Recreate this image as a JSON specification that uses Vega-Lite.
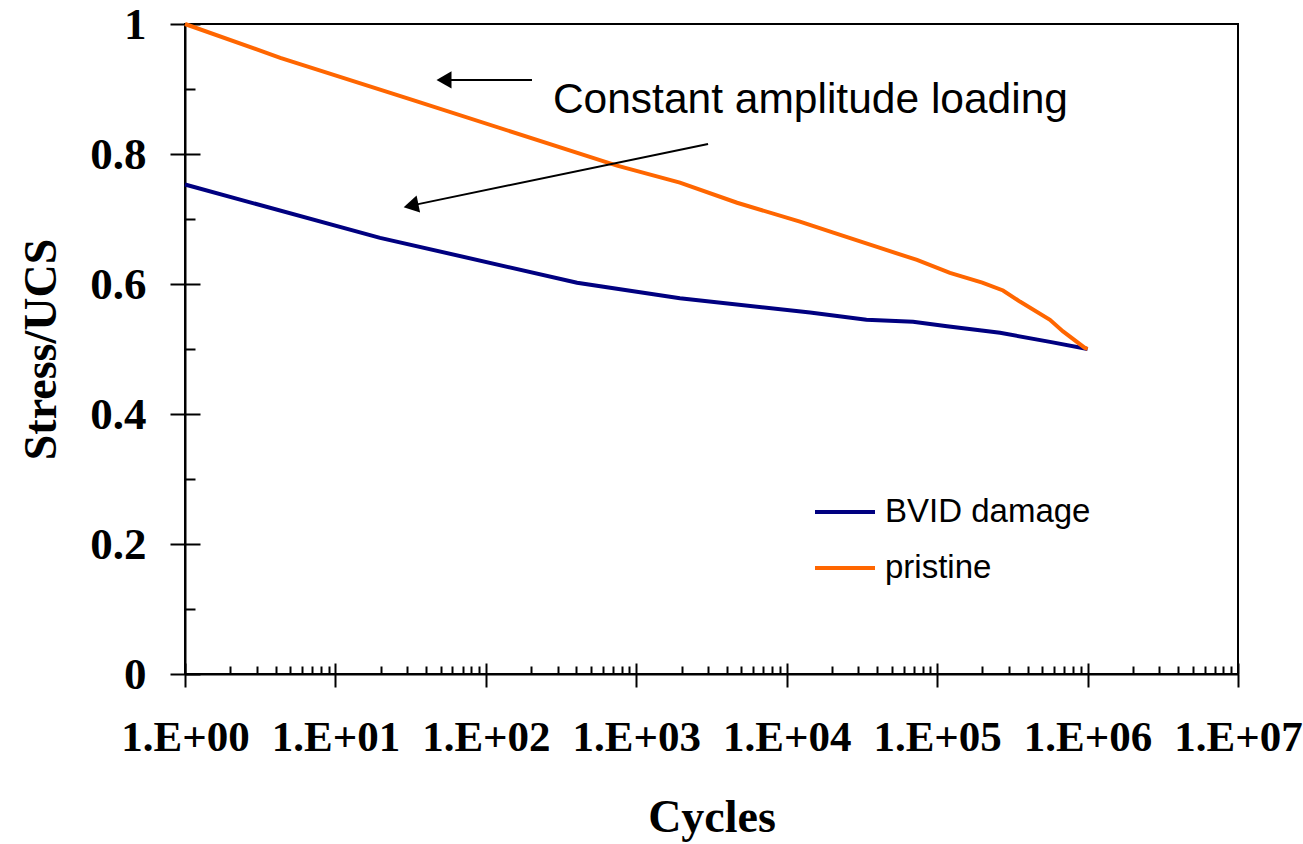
{
  "$schema": "https://vega.github.io/schema/vega-lite/v6.json",
  "width": 1053,
  "height": 650,
  "autosize": "none",
  "padding": {"left": 185, "top": 24, "right": 65, "bottom": 170},
  "background": "white",
  "config": {
    "view": {"stroke": "#000", "strokeWidth": 2},
    "axis": {
      "domainColor": "#000", "tickColor": "#000", "domainWidth": 2, "tickWidth": 2, "grid": false,
      "labelFont": "Liberation Serif", "labelFontWeight": "bold", "labelColor": "#000",
      "titleFont": "Liberation Serif", "titleFontWeight": "bold", "titleColor": "#000"
    }
  },
  "datasets": {
    "curves": [
      {"cycles": 1, "stress": 0.753, "series": "BVID damage"},
      {"cycles": 19.8, "stress": 0.671, "series": "BVID damage"},
      {"cycles": 404, "stress": 0.602, "series": "BVID damage"},
      {"cycles": 1950, "stress": 0.578, "series": "BVID damage"},
      {"cycles": 14289, "stress": 0.556, "series": "BVID damage"},
      {"cycles": 33884, "stress": 0.545, "series": "BVID damage"},
      {"cycles": 69183, "stress": 0.542, "series": "BVID damage"},
      {"cycles": 116413, "stress": 0.535, "series": "BVID damage"},
      {"cycles": 261818, "stress": 0.525, "series": "BVID damage"},
      {"cycles": 562341, "stress": 0.511, "series": "BVID damage"},
      {"cycles": 1000000, "stress": 0.5, "series": "BVID damage"},
      {"cycles": 1, "stress": 1.0, "series": "pristine"},
      {"cycles": 4.3, "stress": 0.948, "series": "pristine"},
      {"cycles": 32.8, "stress": 0.883, "series": "pristine"},
      {"cycles": 745, "stress": 0.782, "series": "pristine"},
      {"cycles": 1950, "stress": 0.756, "series": "pristine"},
      {"cycles": 4677, "stress": 0.725, "series": "pristine"},
      {"cycles": 12246, "stress": 0.696, "series": "pristine"},
      {"cycles": 20417, "stress": 0.679, "series": "pristine"},
      {"cycles": 39811, "stress": 0.657, "series": "pristine"},
      {"cycles": 73451, "stress": 0.637, "series": "pristine"},
      {"cycles": 121619, "stress": 0.617, "series": "pristine"},
      {"cycles": 199526, "stress": 0.602, "series": "pristine"},
      {"cycles": 274158, "stress": 0.59, "series": "pristine"},
      {"cycles": 354813, "stress": 0.573, "series": "pristine"},
      {"cycles": 562341, "stress": 0.545, "series": "pristine"},
      {"cycles": 687068, "stress": 0.527, "series": "pristine"},
      {"cycles": 954993, "stress": 0.502, "series": "pristine"},
      {"cycles": 1000000, "stress": 0.5, "series": "pristine"}
    ],
    "arrows": [
      {"x": 202.6, "y": 0.914, "x2": 52.7, "y2": 0.914},
      {"x": 2999, "y": 0.8154, "x2": 31.8, "y2": 0.7206}
    ]
  },
  "layer": [
    {
      "data": {"name": "curves"},
      "mark": {"type": "line", "strokeWidth": 4},
      "encoding": {
        "x": {
          "field": "cycles", "type": "quantitative",
          "scale": {"type": "log", "domain": [1, 10000000]},
          "axis": {
            "orient": "bottom",
            "values": [1, 10, 100, 1000, 10000, 100000, 1000000, 10000000],
            "labelExpr": "'1.E+0' + round(log(datum.value) / LN10)",
            "tickSize": 13, "labelPadding": 29, "labelFontSize": 43, "labelFlush": false, "labelOverlap": false,
            "title": "Cycles", "titleFontSize": 46, "titlePadding": 36
          }
        },
        "y": {
          "field": "stress", "type": "quantitative",
          "scale": {"domain": [0, 1], "nice": false},
          "axis": {
            "orient": "left",
            "values": [0, 0.2, 0.4, 0.6, 0.8, 1],
            "labelExpr": "format(datum.value, '~g')",
            "tickSize": 15, "labelPadding": 24, "labelFontSize": 45, "labelFlush": false,
            "title": "Stress/UCS", "titleFontSize": 46, "titlePadding": 24
          }
        },
        "color": {
          "field": "series", "type": "nominal",
          "scale": {"domain": ["BVID damage", "pristine"], "range": ["#000080", "#FF6600"]},
          "legend": {
            "orient": "none", "legendX": 628, "legendY": 460, "title": null, "padding": 0,
            "symbolType": "stroke", "symbolSize": 3600, "symbolStrokeWidth": 4,
            "labelFont": "Liberation Sans", "labelFontSize": 33, "labelColor": "#000",
            "labelOffset": 8, "clipHeight": 56, "rowPadding": 0, "labelLimit": 400
          }
        }
      }
    },
    {
      "data": {"name": "curves"},
      "mark": {"type": "line", "opacity": 0},
      "encoding": {
        "x": {
          "field": "cycles", "type": "quantitative",
          "scale": {"type": "log", "domain": [1, 10000000]},
          "axis": {
            "orient": "bottom",
            "values": [2,3,4,5,6,7,8,9,20,30,40,50,60,70,80,90,200,300,400,500,600,700,800,900,2000,3000,4000,5000,6000,7000,8000,9000,20000,30000,40000,50000,60000,70000,80000,90000,200000,300000,400000,500000,600000,700000,800000,900000,2000000,3000000,4000000,5000000,6000000,7000000,8000000,9000000],
            "tickSize": -8, "labels": false, "domain": false, "title": null
          }
        },
        "y": {
          "field": "stress", "type": "quantitative",
          "scale": {"domain": [0, 1], "nice": false},
          "axis": {
            "orient": "left",
            "values": [0.1, 0.3, 0.5, 0.7, 0.9],
            "tickSize": -10, "labels": false, "domain": false, "title": null
          }
        }
      }
    },
    {
      "data": {"name": "curves"},
      "mark": {"type": "line", "opacity": 0},
      "encoding": {
        "x": {
          "field": "cycles", "type": "quantitative",
          "scale": {"type": "log", "domain": [1, 10000000]},
          "axis": {
            "orient": "bottom",
            "values": [1, 10, 100, 1000, 10000, 100000, 1000000, 10000000],
            "tickSize": -11, "labels": false, "domain": false, "title": null
          }
        },
        "y": {
          "field": "stress", "type": "quantitative",
          "scale": {"domain": [0, 1], "nice": false},
          "axis": {
            "orient": "left",
            "values": [0, 0.2, 0.4, 0.6, 0.8, 1],
            "tickSize": -15, "labels": false, "domain": false, "title": null
          }
        }
      }
    },
    {
      "data": {"name": "arrows"},
      "mark": {"type": "rule", "color": "#000", "strokeWidth": 2},
      "encoding": {
        "x": {"field": "x", "type": "quantitative", "scale": {"type": "log", "domain": [1, 10000000]}, "axis": null},
        "y": {"field": "y", "type": "quantitative", "scale": {"domain": [0, 1], "nice": false}, "axis": null},
        "x2": {"field": "x2"},
        "y2": {"field": "y2"}
      }
    },
    {
      "data": {"values": [{"x": 52.7, "y": 0.914}]},
      "mark": {"type": "point", "shape": "triangle-right", "filled": true, "color": "#000", "opacity": 1, "size": 300, "angle": 180},
      "encoding": {
        "x": {"field": "x", "type": "quantitative", "scale": {"type": "log", "domain": [1, 10000000]}, "axis": null},
        "y": {"field": "y", "type": "quantitative", "scale": {"domain": [0, 1], "nice": false}, "axis": null}
      }
    },
    {
      "data": {"values": [{"x": 31.8, "y": 0.7206}]},
      "mark": {"type": "point", "shape": "triangle-right", "filled": true, "color": "#000", "opacity": 1, "size": 300, "angle": 168.3},
      "encoding": {
        "x": {"field": "x", "type": "quantitative", "scale": {"type": "log", "domain": [1, 10000000]}, "axis": null},
        "y": {"field": "y", "type": "quantitative", "scale": {"domain": [0, 1], "nice": false}, "axis": null}
      }
    },
    {
      "data": {"values": [{"x": 279, "y": 0.863, "label": "Constant amplitude loading"}]},
      "mark": {"type": "text", "align": "left", "baseline": "alphabetic", "font": "Liberation Sans", "fontSize": 42.5, "color": "#000"},
      "encoding": {
        "x": {"field": "x", "type": "quantitative", "scale": {"type": "log", "domain": [1, 10000000]}, "axis": null},
        "y": {"field": "y", "type": "quantitative", "scale": {"domain": [0, 1], "nice": false}, "axis": null},
        "text": {"field": "label"}
      }
    }
  ],
  "resolve": {"axis": {"x": "independent", "y": "independent"}}
}
